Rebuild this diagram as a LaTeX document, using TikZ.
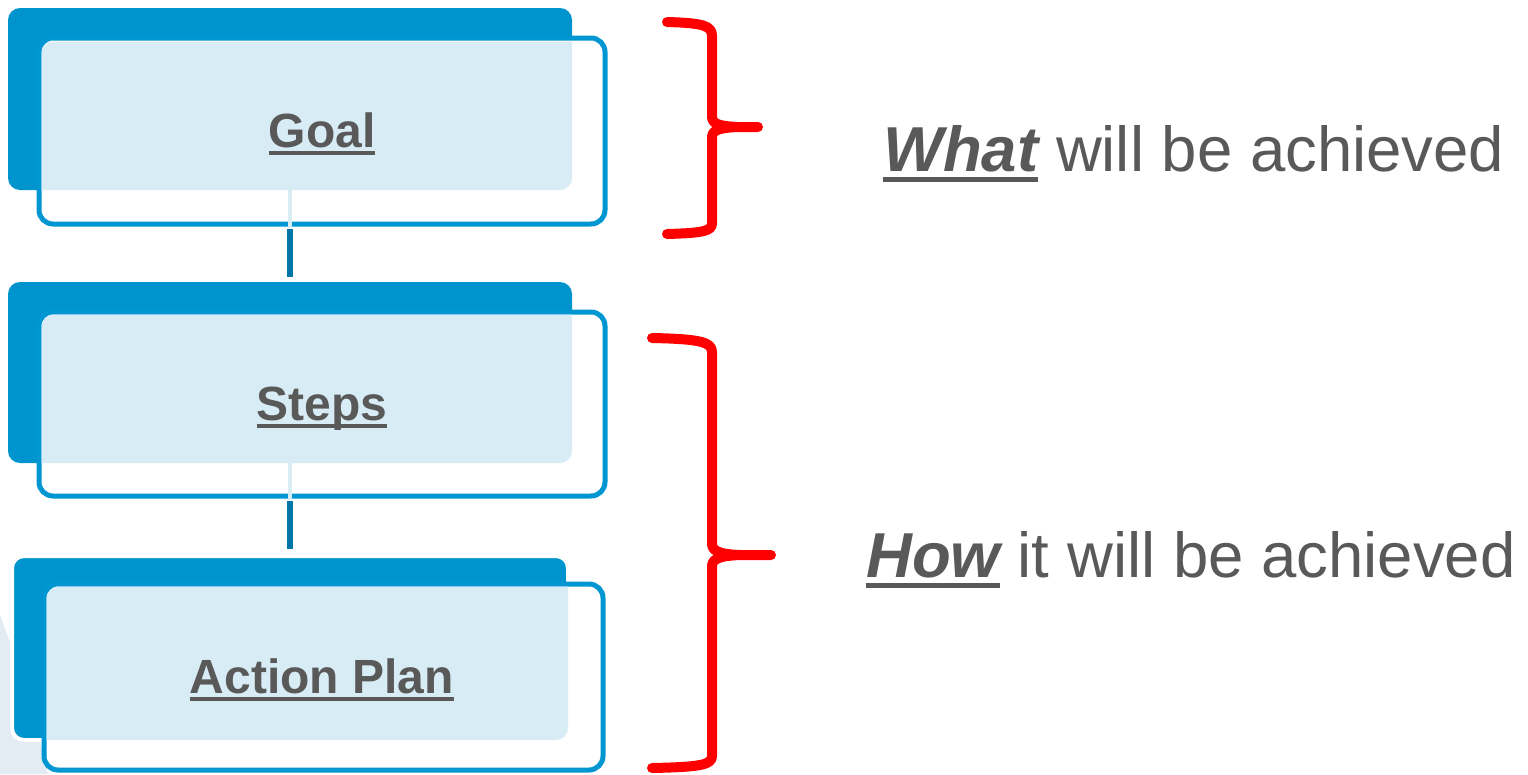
\documentclass[tikz,border=0pt]{standalone}
\usepackage{fontspec}
\setmainfont{Liberation Sans}
\definecolor{bblue}{HTML}{0094CE}
\definecolor{fblue}{HTML}{0096D2}
\definecolor{cblue}{HTML}{0077A8}
\definecolor{pale}{HTML}{D8ECF6}
\definecolor{faint}{HTML}{E4ECF3}
\definecolor{txt}{HTML}{595959}
\definecolor{bred}{HTML}{FF0000}
\newcommand{\myul}[3]{\setbox0\hbox{#3}\rlap{\rule[#1]{\wd0}{#2}}\box0\relax}
\tikzset{
  backbox/.style={fill=bblue, draw=none, rounded corners=12pt, inner sep=0pt},
  frontbox/.style={fill=white, draw=fblue, line width=5pt, rounded corners=14pt, inner sep=0pt},
  boxlabel/.style={text=txt, font=\bfseries\fontsize{48}{56}\selectfont, inner sep=0pt, anchor=base},
  sidelabel/.style={text=txt, font=\fontsize{63.5}{70}\selectfont, inner sep=0pt, anchor=base west},
  conn/.style={draw=cblue, line width=6pt},
  ghost/.style={draw=pale, line width=4pt},
  brace/.style={draw=bred, line width=10pt, line cap=round, line join=round}
}
\begin{document}
\begin{tikzpicture}[x=1pt,y=-1pt]
\useasboundingbox (0,0) rectangle (1528,774);
% faint background shape
\fill[faint] (0,615) -- (28,690) -- (48,774) -- (0,774) -- cycle;
% box 1
\node[backbox, minimum width=564pt, minimum height=182pt] (b1) at (290,99) {};
\node[frontbox, minimum width=566pt, minimum height=186pt] (f1) at (322,131) {};
\begin{scope}
\clip[rounded corners=12pt] (41.5,41.5) rectangle (602.5,221.5);
\fill[pale, rounded corners=12pt] (8,8) rectangle (572,190);
\end{scope}
% box 2
\node[backbox, minimum width=564pt, minimum height=181pt] (b2) at (290,372.5) {};
\node[frontbox, minimum width=566pt, minimum height=184pt] (f2) at (322,404) {};
\begin{scope}
\clip[rounded corners=12pt] (41.5,314.5) rectangle (602.5,493.5);
\fill[pale, rounded corners=12pt] (8,282) rectangle (572,463);
\end{scope}
% box 3
\node[backbox, draw=white, line width=4pt, minimum width=556pt, minimum height=184pt] (b3) at (290,648) {};
\node[frontbox, minimum width=559pt, minimum height=186pt] (f3) at (323.5,677) {};
\begin{scope}
\clip[rounded corners=12pt] (46.5,586.5) rectangle (600.5,767.5);
\fill[pale, rounded corners=12pt] (12,556) rectangle (568,740);
\end{scope}
% connectors
\draw[ghost] (b1.south) -- ([yshift=-1pt]f1.south -| b1.south);
\draw[conn] ([yshift=-2pt]f1.south -| b1.south) -- ([yshift=5pt]b2.north);
\draw[ghost] (b2.south) -- ([yshift=-1pt]f2.south -| b2.south);
\draw[conn] ([yshift=-2pt]f2.south -| b2.south) -- ([yshift=5pt]b3.north);
% labels
\node[boxlabel] (goal) at (322,147) {\myul{-8pt}{4.5pt}{Goal}};
\node[boxlabel] (steps) at (322,420) {\myul{-8pt}{4.5pt}{Steps}};
\node[boxlabel] (plan) at (322,693) {\myul{-8pt}{4.5pt}{Action Plan}};
% braces
\draw[brace] (667,22) .. controls (704,23) and (712,26) .. (712,36) -- (712,116)
  .. controls (712,123) and (716,126) .. (738,127) -- (758,127)
  -- (738,127) .. controls (716,128) and (712,131) .. (712,138) -- (712,223)
  .. controls (712,231) and (704,233) .. (667,234);
\draw[brace] (652,338) .. controls (700,339) and (712,342) .. (712,352) -- (712,543)
  .. controls (712,550) and (716,554) .. (740,555) -- (771,555)
  -- (740,555) .. controls (716,556) and (712,560) .. (712,567) -- (712,756)
  .. controls (712,765) and (700,767) .. (652,768);
% side texts
\node[sidelabel] (what) at (883,171) {\myul{-11pt}{5pt}{\bfseries\itshape What} will be achieved};
\node[sidelabel] (how) at (866,577) {\myul{-11pt}{5pt}{\bfseries\itshape How} it will be achieved};
\end{tikzpicture}
\end{document}
